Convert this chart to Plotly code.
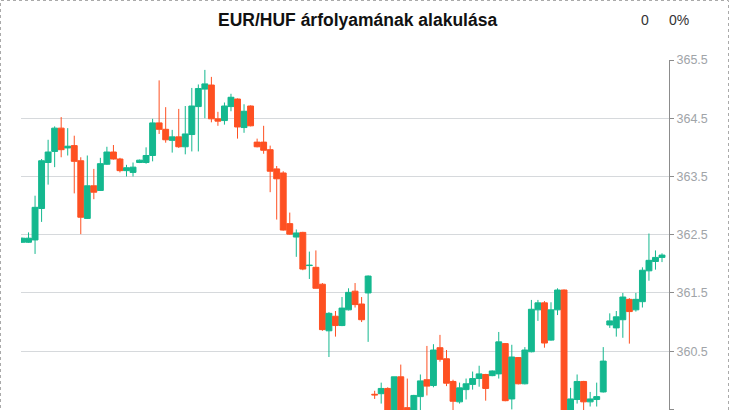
import plotly.graph_objects as go

# trading-day index (x axis is not visible in the reference)
days = list(range(99))

opens = [362.37, 362.37, 362.41, 362.95, 363.74, 363.93, 364.33, 363.99, 364.03, 363.77,
         362.78, 363.34, 363.26, 363.71, 363.92, 363.80, 363.60, 363.57, 363.74, 363.74,
         363.86, 364.42, 364.31, 364.12, 364.18, 364.01, 364.22, 364.70, 365.00, 365.07,
         364.49, 364.46, 364.70, 364.83, 364.34, 364.71, 364.09, 364.09, 363.96, 363.63,
         363.56, 362.69, 362.46, 362.54, 361.97, 361.94, 361.65, 360.85, 361.10, 360.94,
         361.21, 361.53, 361.31, 361.50, 359.76, 359.77, 359.86, 359.30, 360.06, 359.53,
         359.40, 359.72, 360.01, 359.91, 360.56, 360.37, 359.98, 359.63, 359.84, 359.93,
         360.03, 360.10, 360.08, 360.11, 360.63, 359.68, 360.39, 359.94, 360.49, 361.21,
         361.33, 360.69, 361.21, 361.55, 359.30, 359.67, 359.98, 359.63, 359.67, 359.80,
         360.95, 360.90, 361.04, 361.39, 361.21, 361.35, 361.88, 362.04, 362.11]
highs = [362.45, 362.54, 363.17, 363.80, 364.13, 364.36, 364.52, 364.33, 364.20, 363.83,
         363.86, 363.63, 363.82, 364.01, 364.04, 363.82, 363.70, 363.74, 363.79, 364.00,
         364.49, 365.15, 364.69, 364.30, 364.66, 364.71, 365.02, 365.08, 365.33, 365.21,
         364.61, 364.77, 364.92, 364.84, 364.74, 364.72, 364.15, 364.37, 364.03, 363.68,
         363.59, 362.88, 362.59, 362.55, 362.21, 362.23, 361.67, 361.17, 361.19, 361.43,
         361.58, 361.67, 361.43, 361.80, 359.82, 359.96, 359.88, 360.06, 360.27, 360.03,
         359.75, 360.10, 360.59, 360.62, 360.78, 360.52, 360.01, 359.96, 360.03, 360.15,
         360.25, 360.11, 360.17, 360.83, 360.64, 360.61, 360.40, 360.57, 361.38, 361.38,
         361.36, 361.34, 361.58, 361.56, 359.87, 360.10, 359.99, 359.80, 359.96, 360.57,
         361.15, 361.19, 361.50, 361.41, 361.50, 361.94, 362.52, 362.23, 362.18]
lows = [362.36, 362.36, 362.17, 362.72, 363.36, 363.66, 363.83, 363.86, 363.21, 362.51,
        362.77, 363.11, 363.25, 363.70, 363.79, 363.57, 363.50, 363.50, 363.73, 363.72,
        363.76, 364.23, 364.08, 363.91, 363.99, 363.88, 363.93, 363.93, 364.50, 364.43,
        364.37, 364.39, 364.62, 364.15, 364.25, 364.36, 364.00, 363.89, 363.23, 362.76,
        362.57, 362.50, 362.12, 361.89, 361.74, 361.58, 360.85, 360.40, 360.75, 360.93,
        361.20, 361.25, 361.00, 360.66, 359.68, 359.60, 359.20, 359.20, 359.20, 359.40,
        359.35, 359.45, 359.74, 359.88, 360.32, 359.90, 359.48, 359.60, 359.67, 359.84,
        359.89, 359.65, 360.07, 360.03, 359.64, 359.50, 359.93, 359.93, 360.48, 361.02,
        360.56, 360.68, 361.12, 359.00, 359.20, 359.60, 359.48, 359.55, 359.55, 359.79,
        360.90, 360.75, 360.73, 360.63, 361.18, 361.25, 361.71, 361.90, 362.03]
closes = [362.44, 362.44, 362.97, 363.77, 363.92, 364.33, 363.96, 364.02, 363.76, 362.80,
          363.34, 363.23, 363.72, 363.92, 363.80, 363.60, 363.65, 363.66, 363.78, 363.86,
          364.42, 364.31, 364.13, 364.18, 364.01, 364.23, 364.71, 365.01, 365.09, 364.49,
          364.45, 364.71, 364.86, 364.35, 364.62, 364.37, 364.01, 363.95, 363.59, 363.46,
          362.58, 362.51, 362.53, 361.91, 361.975, 361.58, 360.87, 361.15, 360.94, 361.24,
          361.51, 361.30, 361.04, 361.79, 359.75, 359.86, 359.30, 360.06, 359.30, 359.45,
          359.74, 359.99, 359.90, 360.52, 360.36, 359.95, 359.64, 359.87, 359.94, 360.03,
          360.11, 359.86, 360.16, 360.66, 359.65, 360.40, 359.94, 360.52, 361.22, 361.33,
          360.64, 361.21, 361.55, 359.10, 359.68, 359.98, 359.63, 359.68, 359.72, 360.33,
          361.02, 361.09, 361.43, 361.18, 361.39, 361.89, 362.06, 362.11, 362.15]

tick_values = [359.5, 360.5, 361.5, 362.5, 363.5, 364.5, 365.5]
tick_labels = ["359.5", "360.5", "361.5", "362.5", "363.5", "364.5", "365.5"]

title_text = "EUR/HUF árfolyamának alakulása"
change_abs = "0"
change_pct = "0%"

GREEN = "#14b88f"
RED = "#fe5022"

fig = go.Figure(go.Candlestick(
    x=days, open=opens, high=highs, low=lows, close=closes,
    increasing=dict(line=dict(color=GREEN, width=1), fillcolor=GREEN),
    decreasing=dict(line=dict(color=RED, width=1), fillcolor=RED),
    whiskerwidth=0, showlegend=False,
))

W, H = 730, 410
ML, MR, MT, MB = 21, 61, 60, 0
pw, ph = W - ML - MR, H - MT - MB

fig.update_layout(
    width=W, height=H, autosize=False,
    margin=dict(l=ML, r=MR, t=MT, b=MB, pad=0),
    paper_bgcolor="white", plot_bgcolor="white",
    boxgap=0.05, boxgroupgap=0.05,
    font=dict(family="Liberation Sans, Arial, sans-serif"),
    xaxis=dict(range=[-0.153, 99.07], visible=False, showgrid=False,
               rangeslider=dict(visible=False), fixedrange=True),
    yaxis=dict(side="right", range=[359.49, 365.5], tickvals=tick_values,
               ticktext=tick_labels, showgrid=True, gridcolor="#d6d9dc", gridwidth=1,
               showline=True, linecolor="#8c8c8c", linewidth=1,
               ticks="outside", ticklen=4, tickcolor="#8c8c8c",
               tickfont=dict(size=12.5, color="#a0a4a8"), zeroline=False,
               fixedrange=True),
    annotations=[
        dict(text=f"<b>{title_text}</b>", xref="paper", yref="paper",
             x=(357 - ML) / pw, y=1 + (MT - 20) / ph, xanchor="center", yanchor="middle",
             showarrow=False, font=dict(size=17.5, color="#111111")),
        dict(text=change_abs, xref="paper", yref="paper",
             x=(645 - ML) / pw, y=1 + (MT - 20) / ph, xanchor="center", yanchor="middle",
             showarrow=False, font=dict(size=14, color="#333333")),
        dict(text=change_pct, xref="paper", yref="paper",
             x=(679 - ML) / pw, y=1 + (MT - 20) / ph, xanchor="center", yanchor="middle",
             showarrow=False, font=dict(size=14, color="#333333")),
    ],
    shapes=[dict(type="rect", xref="paper", yref="paper",
                 x0=(0.5 - ML) / pw, x1=(728.5 - ML) / pw,
                 y0=-0.2, y1=1 + (MT - 0.5) / ph,
                 line=dict(color="#aaaaaa", width=1, dash="3px,3px"),
                 fillcolor="rgba(0,0,0,0)", layer="above")],
    hovermode=False,
)

fig.write_html("out.html",
               config={"displayModeBar": False, "staticPlot": True},
               post_script="document.body.style.margin='0';document.body.style.overflow='hidden';")
